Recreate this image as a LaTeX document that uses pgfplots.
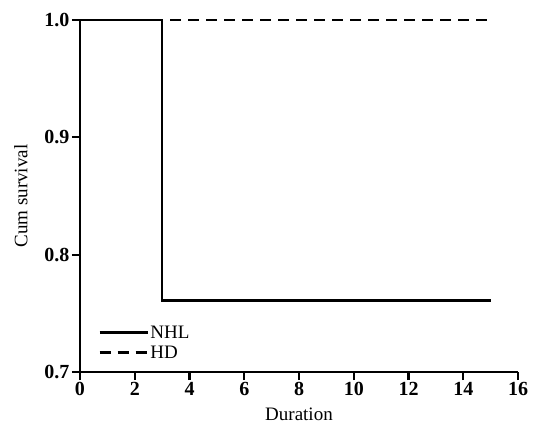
\documentclass[border=0pt]{standalone}
\usepackage{pgfplots}
\pgfplotsset{compat=1.18}
\usepackage{fontspec}
\setmainfont{Liberation Serif}
\begin{document}
\begin{tikzpicture}
\begin{axis}[
  scale only axis,
  width=438pt, height=352pt,
  xmin=0, xmax=16, ymin=0.7, ymax=1.0,
  axis lines*=left,
  axis line style={line width=2.4pt},
  xtick={0,2,...,16},
  ytick={0.7,0.8,0.9,1.0},
  tick align=outside,
  major tick length=8pt,
  tick style={line width=2.2pt, black},
  /pgf/number format/assume math mode=true,
  yticklabel style={/pgf/number format/fixed, /pgf/number format/precision=1, /pgf/number format/fixed zerofill, font=\bfseries\fontsize{20}{22}\selectfont, xshift=1pt},
  xticklabel style={font=\bfseries\fontsize{20}{22}\selectfont, yshift=1pt},
  xlabel={Duration}, ylabel={Cum survival},
  label style={font=\fontsize{19}{22}\selectfont},
  xlabel style={yshift=-5pt},
  ylabel style={yshift=10pt},
  clip=false,
  legend cell align=left,
  legend style={draw=none, fill=none, at={(0.035,0.025)}, anchor=south west, font=\fontsize{19}{22}\selectfont, row sep=3pt,
    nodes={inner sep=1.5pt}},
  legend image code/.code={\draw[#1] (0pt,0pt) -- (48pt,0pt);},
]
\addplot[black, line width=2.4pt, const plot] coordinates {(0,1.0) (3,0.761) (15,0.761)};
\addlegendentry{NHL}
\addplot[black, line width=2.4pt, dash pattern=on 11pt off 7pt] coordinates {(0,1.0) (15,1.0)};
\addlegendentry{HD}
\end{axis}
\pgfresetboundingbox
\path[use as bounding box] (current axis.south west) ++(-80pt,-53pt) rectangle ++(534pt,425pt);
\end{tikzpicture}
\end{document}
